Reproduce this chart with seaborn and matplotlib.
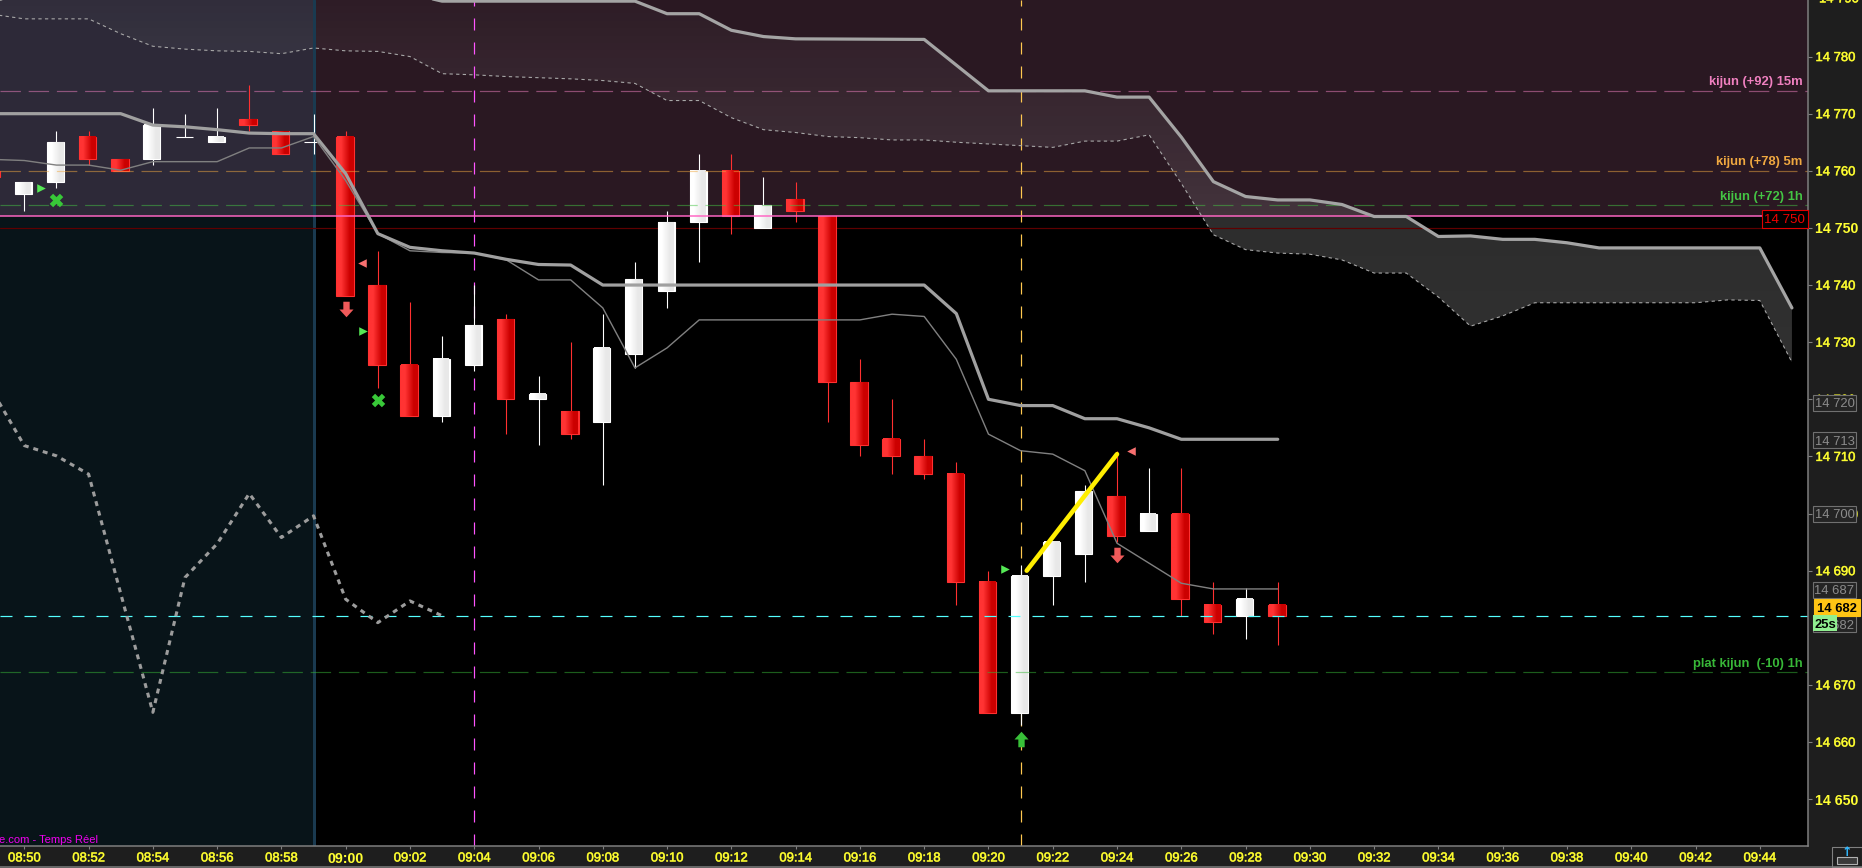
import numpy as np
import pandas as pd
import seaborn as sns
import matplotlib
matplotlib.use("Agg")
import matplotlib.pyplot as plt
import matplotlib.patheffects as pe
from matplotlib.path import Path
from matplotlib.patches import Rectangle

# minutes counted from 08:50
minutes = list(range(-1, 40))
opens = [14760, 14756, 14758, 14766, 14762, 14762, 14766, 14765, 14769, 14767, 14765, 14766, 14740, 14726, 14717, 14726,
         14734, 14720, 14718, 14716, 14728, 14739, 14751, 14760, 14750, 14755, 14752, 14723, 14713, 14710, 14707, 14688,
         14665, 14689, 14693, 14703, 14697, 14700, 14684, 14682, 14684]
closes = [14759, 14758, 14765, 14762, 14760, 14768, 14766, 14766, 14768, 14763, 14765, 14738, 14726, 14717, 14727, 14733,
          14720, 14721, 14714, 14729, 14741, 14751, 14760, 14752, 14754, 14753, 14723, 14712, 14710, 14707, 14688, 14665,
          14689, 14695, 14704, 14696, 14700, 14685, 14681, 14685, 14682]
highs = [14760, 14758, 14767, 14767, 14762, 14771, 14770, 14771, 14775, 14767, 14770, 14767, 14746, 14737, 14731, 14740,
         14735, 14724, 14730, 14735, 14744, 14753, 14763, 14763, 14759, 14758, 14752, 14727, 14720, 14713, 14709, 14690,
         14691, 14695, 14705, 14711, 14708, 14708, 14688, 14687, 14688]
lows = [14759, 14753, 14757, 14761, 14760, 14761, 14766, 14765, 14767, 14763, 14763, 14738, 14722, 14717, 14716, 14725,
        14714, 14712, 14713, 14705, 14725.5, 14736, 14744, 14749, 14750, 14751, 14716, 14710, 14707, 14706, 14684, 14665,
        14663, 14684, 14688, 14695, 14697, 14682, 14679, 14678, 14677]

kijun = [14770, 14770, 14770, 14770, 14770, 14768, 14767.7, 14767.2, 14766.6, 14766.5, 14766.5, 14759.5, 14749, 14746.6,
         14746, 14745.6, 14744.5, 14743.6, 14743.5, 14740, 14740, 14740, 14740, 14740, 14740, 14740, 14740, 14740, 14740,
         14740, 14735, 14720, 14718.9, 14718.9, 14716.6, 14716.6, 14715, 14713, 14713, 14713, 14713]
tenkan = [14762, 14761.8, 14761, 14761, 14760.1, 14761.6, 14761.6, 14761.6, 14764, 14764, 14766, 14758.3, 14749, 14746,
          14745.7, 14745.6, 14744.4, 14740.9, 14740.9, 14736, 14725.5, 14729, 14733.9, 14733.9, 14733.9, 14733.9, 14733.9,
          14733.9, 14734.9, 14734.5, 14727, 14713.9, 14711, 14710.4, 14707.5, 14694.8, 14691.3, 14687.8, 14686.8, 14686.8,
          14686.8]

senkou_a_x = [-1, 0, 12, 13, 19, 20, 21, 22, 23, 24, 28, 29, 30, 33, 34, 35, 36, 37, 38, 39, 40, 41, 42, 43, 44, 45, 46,
              47, 48, 49, 54, 55]
senkou_a = [14789.7, 14791, 14791, 14789.7, 14789.7, 14787.5, 14787.5, 14784.6, 14783.5, 14783.1, 14783, 14778.5, 14774,
            14774, 14772.9, 14772.9, 14765.9, 14758.1, 14755.5, 14754.9, 14754.9, 14754.1, 14752, 14752, 14748.5, 14748.6,
            14748, 14748, 14747.4, 14746.5, 14746.5, 14736]
senkou_b_x = list(range(-1, 56))
senkou_b = [14787.4, 14786.6, 14786.6, 14786.6, 14784, 14781.8, 14781.3, 14781, 14780.9, 14780.5, 14781.5, 14781, 14780.9,
            14780, 14777, 14776.8, 14776.5, 14776.3, 14776.1, 14775.8, 14775.3, 14772.3, 14772.3, 14769.3, 14767.2, 14766.7,
            14766, 14765.8, 14765.4, 14765.4, 14765, 14764.7, 14764.4, 14764.1, 14765.2, 14765.2, 14766.3, 14757.8, 14748.8,
            14746.2, 14745.6, 14745.4, 14744.4, 14742.1, 14742.1, 14737.9, 14732.8, 14734.6, 14736.9, 14736.9, 14736.9,
            14736.9, 14736.9, 14736.9, 14737.4, 14737.3, 14726.5]

chikou_x = list(range(-1, 14))
chikou = [14721.5, 14711.9, 14710.1, 14706.9, 14686, 14665.2, 14688.8, 14694.7, 14703.5, 14695.8, 14699.6, 14685, 14680.9,
          14684.7, 14682.1]

yellow_x = [31.19, 34.0]
yellow_y = [14690, 14710.4]

level_labels = ["kijun (+92) 15m", "kijun (+78) 5m", "kijun (+72) 1h", "plat kijun  (-10) 1h"]
level_values = [14774, 14760, 14754, 14672.2]
level_colors = ["#f080c0", "#f0a840", "#44c444", "#38b838"]
label_y = [14775.5, 14761.5, 14755.5, 14673.7]

y_ticks = [14780, 14770, 14760, 14750, 14740, 14730, 14720, 14710, 14700, 14690, 14670, 14660, 14650]
x_ticks = list(range(0, 56, 2))
x_labels = [f"{(530 + m) // 60:02d}:{(530 + m) % 60:02d}" for m in x_ticks]

W, H = 1862, 868
PX = 72 / 100  # one pixel in points
thicker = [pe.withStroke(linewidth=0.45, foreground="#c8c820")]

sns.set_theme(style="dark", rc={"axes.facecolor": "black", "figure.facecolor": "#1e1e1e", "axes.grid": False})
plt.rcParams["font.family"] = ["Liberation Sans", "DejaVu Sans"]

fig = plt.figure(figsize=(W / 100, H / 100), dpi=100)
ax = fig.add_axes([0, 22 / H, 1808 / W, 846 / H])
ax.set_autoscale_on(False)
x_min, x_max = -0.756, 55.5
y_min, y_max = 14641.8, 14789.9
ax.set_xlim(x_min, x_max)
ax.set_ylim(y_min, y_max)

# tinted zones, then the cloud that gets lighter towards the bottom
ax.axhspan(14752, y_max, color="#2a1822", lw=0, zorder=1)
grid_x = np.array(senkou_b_x, dtype=float)
top = np.interp(grid_x, senkou_a_x, senkou_a)
shape = ax.fill_between(grid_x, top, senkou_b, color="none", lw=0, zorder=1)
prices = np.linspace(14720, y_max, 420)
cloud_alpha = np.interp(prices, [14720, 14751.9, 14752, 14765, 14780, y_max], [0.2, 0.18, 0.12, 0.085, 0.05, 0.02])
cloud_img = np.ones((len(prices), 1, 4))
cloud_img[:, 0, 3] = cloud_alpha
im = ax.imshow(cloud_img, extent=[x_min, x_max, 14720, y_max], origin="lower", aspect="auto", zorder=2)
im.set_clip_path(shape.get_paths()[0], transform=ax.transData)
ax.axvspan(x_min, 9.0, color="#50c8fa", alpha=0.1, lw=0, zorder=3)
ax.axvline(9.0, color="#1a3a50", lw=3 * PX, zorder=3)

ax.axvline(14, color="#ff55ff", lw=1.2 * PX, linestyle=(0, (10, 10)), zorder=4)
ax.axvline(31, color="#ffc850", lw=1.2 * PX, linestyle=(0, (10, 10)), zorder=4)
ax.axhline(14750, color="#5e0000", lw=1.2 * PX, zorder=4)

# candles
candles = pd.DataFrame({"m": minutes, "o": opens, "c": closes, "h": highs, "l": lows})
for row in candles.itertuples():
    up = row.c >= row.o
    line_col = "white" if up else "#ff3030"
    ax.vlines(row.m, row.l, row.h, color=line_col, lw=1.1 * PX, zorder=5)
    low, high = min(row.o, row.c), max(row.o, row.c)
    x0, wd = row.m - 0.03, 0.53 if up else 0.55
    ax.bar(x0, high - low, wd, low, color=line_col, edgecolor=line_col, lw=1.1 * PX, zorder=5)
    if high > low:
        colors = [[1, 1, 1], [0.91, 0.91, 0.91]] if up else [[1, 0.2, 0.2], [0.8, 0, 0]]
        ax.imshow(np.array([colors]), extent=[x0 - wd / 2 + 0.02, x0 + wd / 2 - 0.02, low, high], aspect="auto",
                  interpolation="bilinear", origin="lower", zorder=5.1)

# levels drawn across the candles
for val, col in zip(level_values, level_colors):
    ax.axhline(val, color=col, alpha=0.5, lw=1.2 * PX, linestyle=(0, (17, 6.5)), zorder=6)
ax.axhline(14682, color="#55ffff", lw=1.2 * PX, linestyle=(0, (10, 10)), zorder=6)
ax.axhline(14752, color="#ff66c4", lw=1.5 * PX, zorder=6)

# ichimoku lines
sns.lineplot(x=minutes, y=tenkan, ax=ax, color="#808080", lw=1.4 * PX, estimator=None, sort=False, zorder=7)
sns.lineplot(x=senkou_b_x, y=senkou_b, ax=ax, color="#a8a8a8", lw=1.1 * PX, estimator=None, sort=False,
             linestyle=(0, (3, 3)), zorder=7)
sns.lineplot(x=senkou_a_x, y=senkou_a, ax=ax, color="#a4a4a4", lw=3.2 * PX, estimator=None, sort=False, zorder=7)
sns.lineplot(x=minutes, y=kijun, ax=ax, color="#a0a0a0", lw=3.2 * PX, estimator=None, sort=False, zorder=7)
sns.lineplot(x=chikou_x, y=chikou, ax=ax, color="#9c9c9c", lw=3.1 * PX, estimator=None, sort=False,
             linestyle=(0, (1.6, 1.6)), zorder=7)
sns.lineplot(x=yellow_x, y=yellow_y, ax=ax, color="#ffee00", lw=4.6 * PX, estimator=None, sort=False,
             solid_capstyle="round", zorder=8)

# signal markers
arrow_up = Path([(-1, 0), (0, 1.1), (1, 0), (0.45, 0), (0.45, -1.1), (-0.45, -1.1), (-0.45, 0), (-1, 0)], closed=True)
arrow_down = Path([(-1, 0), (0, -1.1), (1, 0), (0.45, 0), (0.45, 1.1), (-0.45, 1.1), (-0.45, 0), (-1, 0)], closed=True)
sns.scatterplot(x=[10, 34], y=[14735.8, 14692.8], ax=ax, marker=arrow_down, s=125, color="#f05a5a", lw=0, zorder=9)
sns.scatterplot(x=[31], y=[14660.6], ax=ax, marker=arrow_up, s=125, color="#38c038", lw=0, zorder=9)
sns.scatterplot(x=[1, 11], y=[14754.9, 14719.9], ax=ax, marker="X", s=95, color="#38c838", lw=0, zorder=9)
sns.scatterplot(x=[0.53, 10.55, 30.53], y=[14757, 14732, 14690.3], ax=ax, marker=">", s=38, color="#55e855", lw=0, zorder=9)
sns.scatterplot(x=[10.5, 34.45], y=[14743.9, 14711], ax=ax, marker="<", s=38, color="#f87070", lw=0, zorder=9)

ax.set_xlim(x_min, x_max)
ax.set_ylim(y_min, y_max)
ax.set_xlabel("")
ax.set_ylabel("")

# axes
for side in ["top", "left"]:
    ax.spines[side].set_visible(False)
for side in ["right", "bottom"]:
    ax.spines[side].set_visible(True)
    ax.spines[side].set_color("#808080")
    ax.spines[side].set_linewidth(1.5 * PX)
    ax.spines[side].set_zorder(20)

ax.yaxis.tick_right()
ax.set_yticks(y_ticks)
ax.set_yticklabels([f"{v // 1000} {v % 1000:03d}" for v in y_ticks])
ax.set_xticks(x_ticks)
ax.set_xticklabels(x_labels)
ax.tick_params(axis="y", colors="#808080", length=4 * PX, width=1.1 * PX, pad=2.5, labelcolor="#ffff33", labelsize=9.4,
               right=True, labelright=True, left=False, labelleft=False)
ax.tick_params(axis="x", colors="#808080", length=3 * PX, width=1.1 * PX, pad=2.5, labelcolor="#ffff33", labelsize=9.4,
               bottom=True)
for lab in ax.get_yticklabels() + ax.get_xticklabels():
    if lab.get_text() in ("14 750", "14 650", "14 700", "09:00"):
        lab.set_fontweight("bold")
        lab.set_fontsize(10.2)
    else:
        lab.set_path_effects(thicker)
trans_y = ax.get_yaxis_transform()
ax.text(1 + 11 / 1808, 14790, "14 790", color="#ffff33", fontsize=9.4, va="center", transform=trans_y, clip_on=False,
        path_effects=thicker)

# level labels
for txt, yy, col in zip(level_labels, label_y, level_colors):
    ax.text(1802.5 / 1808, yy, txt, color=col, fontsize=9.4, fontweight="bold", ha="right", va="center",
            transform=trans_y, zorder=15)

ax.text(-1 / 1808, 14642.9, "e.com - Temps Réel", color="#f000f0", fontsize=8, transform=trans_y, va="center", zorder=15)


def tag(price, text, x0=1813, x1=1856, fg="#8c8c8c", bg="#242424", edge="#707070", bold=False, h=16):
    # boxed price on the right hand scale, sizes in pixels
    yc = 846 - (price - y_min) / (y_max - y_min) * 846
    box = Rectangle((x0 / W, 1 - (yc + h / 2) / H), (x1 - x0) / W, h / H, transform=fig.transFigure, fc=bg, ec=edge,
                    lw=1.1 * PX, clip_on=False, zorder=30)
    fig.add_artist(box)
    fig.text((x0 + x1) / 2 / W, 1 - yc / H, text, color=fg, fontsize=9.4, fontweight="bold" if bold else "normal",
             ha="center", va="center_baseline", zorder=31)


tag(14719.4, "14 720")
tag(14712.8, "14 713")
tag(14700, "14 700")
tag(14686.7, "14 687")
tag(14680.6, "14 682")
tag(14683.5, "14 682", x0=1814, x1=1860, fg="black", bg="#ffc414", edge="#ffc414", bold=True, h=17)
fig.add_artist(Rectangle((1813 / W, 1 - 631 / H), 24 / W, 16 / H, transform=fig.transFigure, fc="#90ee90", ec="none", zorder=32))
fig.text(1825 / W, 1 - 623.5 / H, "25s", color="black", fontsize=9.4, fontweight="bold", ha="center", va="center_baseline",
         zorder=33)

# red box on the hour level
fig.add_artist(Rectangle((1761.5 / W, 1 - 227.5 / H), 46.5 / W, 18 / H, transform=fig.transFigure, fc="black", ec="#e00000",
                         lw=1.1 * PX, zorder=30))
fig.text(1784.5 / W, 1 - 218.5 / H, "14 750", color="#f00000", fontsize=9.6, ha="center", va="center_baseline", zorder=31)

# strip under the time scale and the small button
fig.add_artist(plt.Line2D([0, 1], [1 / H, 1 / H], color="#808080", lw=1.5 * PX))
fig.add_artist(Rectangle((1832 / W, 1 / H), 30 / W, 20 / H, transform=fig.transFigure, fc="#1e1e1e", ec="#808080", lw=1.1 * PX))
fig.add_artist(Rectangle((1837 / W, 4 / H), 20 / W, 7 / H, transform=fig.transFigure, fc="#3a3a3a", ec="#b0b0b0", lw=1.1 * PX))
fig.text(1846.5 / W, 1 - 853 / H, "\u2191", color="#30b8ff", fontsize=9, fontweight="bold", ha="center", va="center",
         family="DejaVu Sans")

fig.savefig("out.png", dpi=100, facecolor=fig.get_facecolor())
